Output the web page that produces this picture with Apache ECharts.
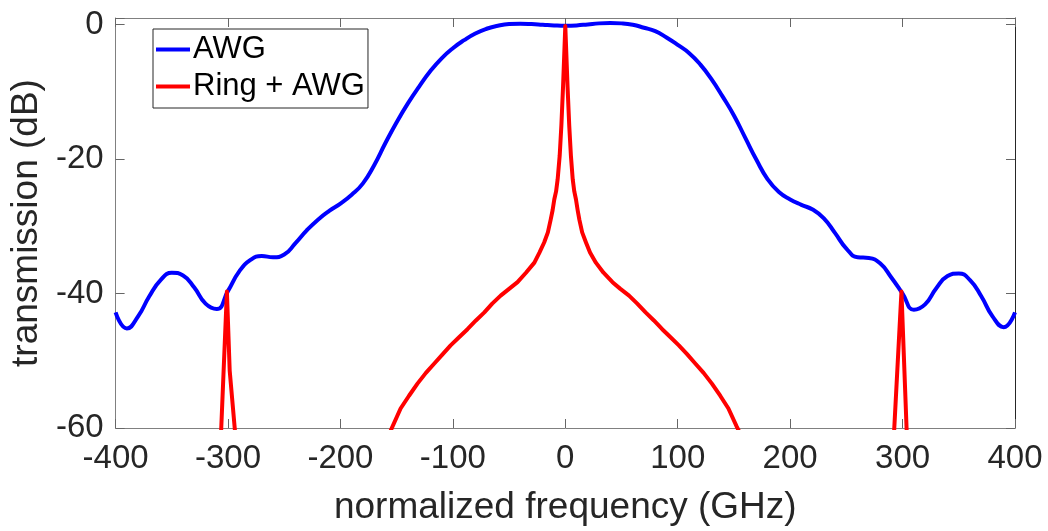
<!DOCTYPE html>
<html>
<head>
<meta charset="utf-8">
<script src="https://cdn.jsdelivr.net/npm/echarts@6/dist/echarts.min.js"></script>
<style>
  html, body { margin: 0; padding: 0; background: #fff; }
  #chart { width: 1048px; height: 531px; }
</style>
</head>
<body>
<div id="chart"></div>
<script>
// Frequency grid (GHz) for the AWG passband
const freq = [
  -400, -390, -380, -370, -360, -350, -340, -330, -320, -310,
  -300, -290, -280, -270, -260, -250, -240, -230, -220, -210,
  -200, -190, -180, -170, -160, -150, -140, -130, -120, -110,
  -100, -90, -80, -70, -60, -50, -40, -30, -20, -10,
  0, 10, 20, 30, 40, 50, 60, 70, 80, 90,
  100, 110, 120, 130, 140, 150, 160, 170, 180, 190,
  200, 210, 220, 230, 240, 250, 260, 270, 280, 290,
  300, 310, 320, 330, 340, 350, 360, 370, 380, 390, 400
];

// AWG transmission (dB)
const awg = [
  -42.8, -45.2, -43.4, -40.4, -38.0, -36.9, -37.3, -39.1, -41.5, -42.3,
  -39.6, -36.7, -35.0, -34.4, -34.6, -34.2, -32.5, -30.6, -29.0, -27.7,
  -26.6, -25.3, -23.6, -20.9, -17.6, -14.5, -11.7, -9.2, -6.9, -5.0,
  -3.5, -2.3, -1.3, -0.6, -0.15, 0.1, 0.15, 0.1, 0.0, -0.1,
  -0.15, -0.1, 0.05, 0.2, 0.25, 0.2, 0.0, -0.45, -0.95, -1.9,
  -3.0, -4.2, -5.9, -8.1, -10.7, -13.5, -16.8, -20.1, -23.0, -24.9,
  -26.0, -26.8, -27.5, -28.8, -31.0, -33.3, -34.6, -34.7, -35.5, -37.6,
  -40.0, -42.4, -41.6, -39.2, -37.4, -37.0, -38.0, -40.4, -43.4, -45.0, -42.8
];

// Ring filter followed by the AWG: frequency (GHz) and transmission (dB)
const ringFreq = [
  -400, -350, -315, -308, -301, -298.5, -293, -250, -200, -165,
  -146.5, -139, -131.5, -124, -116.5, -109, -102, -94.5, -87, -79.5,
  -72, -65, -57.5, -50, -42.5, -35, -27.5, -23, -18.8, -15.5,
  -13, -11.3, -9.8, -8.2, -6.8, -5, -3.5, -2, 0, 2,
  3.5, 5, 6.6, 8, 9.5, 11, 12.5, 15, 18.4, 22,
  27.2, 34, 42, 49, 56.7, 64, 71.4, 78.8, 86.2, 93.6,
  101, 108.3, 115.6, 123, 130.4, 137.8, 145.1, 152.5, 165, 200,
  250, 292, 299, 304, 315, 350, 400
];
const ringAwg = [
  -90, -85, -75, -68, -39.7, -51.5, -62, -80, -75, -64,
  -57.1, -55.2, -53.4, -51.8, -50.4, -49.0, -47.7, -46.5, -45.3, -44.0,
  -42.8, -41.5, -40.3, -39.3, -38.3, -36.9, -35.4, -33.9, -32.4, -30.9,
  -29.0, -27.6, -26.0, -24.8, -23.0, -19.5, -15.0, -9.2, -0.2, -9.2,
  -15.0, -19.5, -23.0, -24.8, -26.0, -27.6, -29.0, -30.9, -32.4, -33.9,
  -35.4, -36.9, -38.3, -39.3, -40.3, -41.5, -42.8, -44.0, -45.3, -46.5,
  -47.7, -49.0, -50.4, -51.8, -53.4, -55.2, -57.1, -59.8, -64, -75,
  -80, -62, -39.7, -62, -75, -85, -90
];

// Axis ranges and tick labels
const xTicks = [-400, -300, -200, -100, 0, 100, 200, 300, 400];
const yTicks = [-60, -40, -20, 0];
const seriesNames = ['AWG', 'Ring + AWG'];

const FONT = '"Liberation Sans", Arial, Helvetica, sans-serif';
const AXIS_GRAY = '#808080';
const TEXT = '#262626';

const chart = echarts.init(document.getElementById('chart'), null, { renderer: 'canvas' });

const pair = (xs, ys) => xs.map((x, i) => [x, ys[i]]);

const xBase = {
  type: 'value',
  min: xTicks[0],
  max: xTicks[xTicks.length - 1],
  interval: 100,
  splitLine: { show: false },
  axisTick: { inside: true, length: 9, lineStyle: { color: '#666', width: 1 } }
};
const yBase = {
  type: 'value',
  min: yTicks[0],
  max: 1,
  interval: 20,
  splitLine: { show: false },
  axisTick: { inside: true, length: 9, lineStyle: { color: '#666', width: 1 } }
};

chart.setOption({
  animation: false,
  backgroundColor: '#fff',
  grid: { left: 110, right: 33, top: 18, bottom: 102, containLabel: false },
  xAxis: [
    Object.assign({}, xBase, {
      position: 'bottom',
      name: 'normalized frequency (GHz)',
      nameLocation: 'middle',
      nameGap: 61,
      nameTextStyle: { fontFamily: FONT, fontSize: 37, color: TEXT },
      axisLine: { onZero: false, lineStyle: { color: AXIS_GRAY, width: 1 } },
      axisLabel: { fontFamily: FONT, fontSize: 33, color: TEXT, margin: 14 }
    }),
    Object.assign({}, xBase, {
      position: 'top',
      axisLine: { onZero: false, lineStyle: { color: AXIS_GRAY, width: 1 } },
      axisLabel: { show: false }
    })
  ],
  yAxis: [
    Object.assign({}, yBase, {
      position: 'left',
      name: 'transmission (dB)',
      nameLocation: 'middle',
      nameGap: 63,
      nameTextStyle: { fontFamily: FONT, fontSize: 37, color: TEXT },
      axisLine: { onZero: false, lineStyle: { color: AXIS_GRAY, width: 1 } },
      axisLabel: {
        fontFamily: FONT, fontSize: 33, color: TEXT, margin: 12,
        formatter: v => (yTicks.indexOf(v) >= 0 ? String(v) : '')
      }
    }),
    Object.assign({}, yBase, {
      position: 'right',
      axisLine: { onZero: false, lineStyle: { color: TEXT, width: 1 } },
      axisLabel: { show: false }
    })
  ],
  legend: {
    data: seriesNames,
    orient: 'vertical',
    left: 153,
    top: 29,
    padding: [5, 3, 6, 3],
    itemGap: 6,
    itemWidth: 34,
    itemHeight: 4,
    icon: 'rect',
    backgroundColor: '#fff',
    borderColor: TEXT,
    borderWidth: 1,
    borderRadius: 0,
    textStyle: { fontFamily: FONT, fontSize: 31, color: '#000', lineHeight: 31, padding: [0, 0, 0, -2] }
  },
  series: [
    {
      name: seriesNames[0],
      type: 'line',
      xAxisIndex: 0,
      yAxisIndex: 0,
      data: pair(freq, awg),
      smooth: 0.5,
      showSymbol: false,
      clip: true,
      lineStyle: { color: '#0000ff', width: 4 },
      itemStyle: { color: '#0000ff' },
      z: 2
    },
    {
      name: seriesNames[1],
      type: 'line',
      xAxisIndex: 0,
      yAxisIndex: 0,
      data: pair(ringFreq, ringAwg),
      smooth: false,
      showSymbol: false,
      clip: true,
      lineStyle: { color: '#ff0000', width: 4, join: 'round' },
      itemStyle: { color: '#ff0000' },
      z: 3
    }
  ]
});
</script>
</body>
</html>
